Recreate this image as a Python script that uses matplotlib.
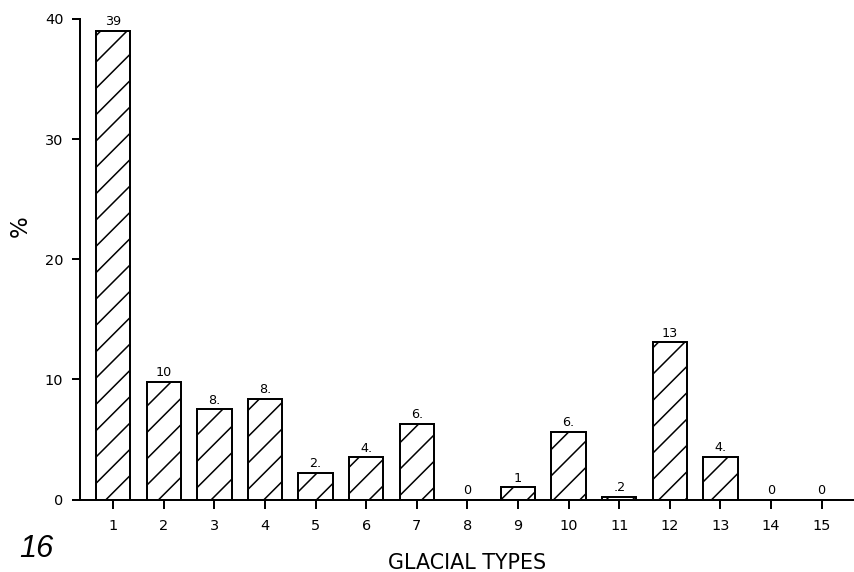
import matplotlib
matplotlib.use("Agg")
import matplotlib.pyplot as plt

# glacial type frequencies (%)
types = list(range(1, 16))
percent = [39, 9.8, 7.5, 8.4, 2.2, 3.5, 6.3, 0, 1.0, 5.65, 0.2, 13.1, 3.55, 0, 0]
bar_text = ['39', '10', '8.', '8.', '2.', '4.', '6.', '0', '1', '6.', '.2', '13', '4.', '0', '0']
yticks = [0, 10, 20, 30, 40]

DPI = 158
W, H = 854, 572

plt.rcParams['font.family'] = 'DejaVu Sans'
plt.rcParams['hatch.linewidth'] = 0.7
plt.rcParams['hatch.color'] = 'black'

fig = plt.figure(figsize=(W / DPI, H / DPI), dpi=DPI)
fig.patch.set_facecolor('white')

# axes box in pixels: left 80, top 19, bottom 499.5, runs to right edge
ax = fig.add_axes([80 / W, 1 - 499.5 / H, 1 - 80 / W, (499.5 - 19) / H])

ax.bar(types, percent, width=0.68, facecolor='white', edgecolor='black',
       linewidth=0.9, hatch='//', zorder=2)

for x, h, t in zip(types, percent, bar_text):
    ax.annotate(t, (x, h), xytext=(0, 1.2), textcoords='offset points',
                ha='center', va='bottom', fontsize=5.8)

ax.set_xlim(0.342, 15.64)
ax.set_ylim(0, 40)
ax.set_xticks(types)
ax.set_yticks(yticks)

for side in ['top', 'right']:
    ax.spines[side].set_visible(False)
for side in ['left', 'bottom']:
    ax.spines[side].set_linewidth(0.9)

ax.tick_params(axis='y', direction='out', length=3.6, width=0.9, pad=4.0, labelsize=6.6)
ax.tick_params(axis='x', direction='out', length=4.0, width=0.9, pad=5.0, labelsize=6.6)

fig.text(467 / W, 1 - 569 / H, 'GLACIAL TYPES', ha='center', va='baseline', fontsize=9.4)
fig.text(20 / W, 1 - 226 / H, '%', rotation=90, ha='center', va='center', fontsize=10.5)
fig.text(19 / W, 1 - 557 / H, '16', ha='left', va='baseline', fontsize=14,
         family='Liberation Sans', style='italic')

fig.savefig('out.png', dpi=DPI, facecolor='white')
